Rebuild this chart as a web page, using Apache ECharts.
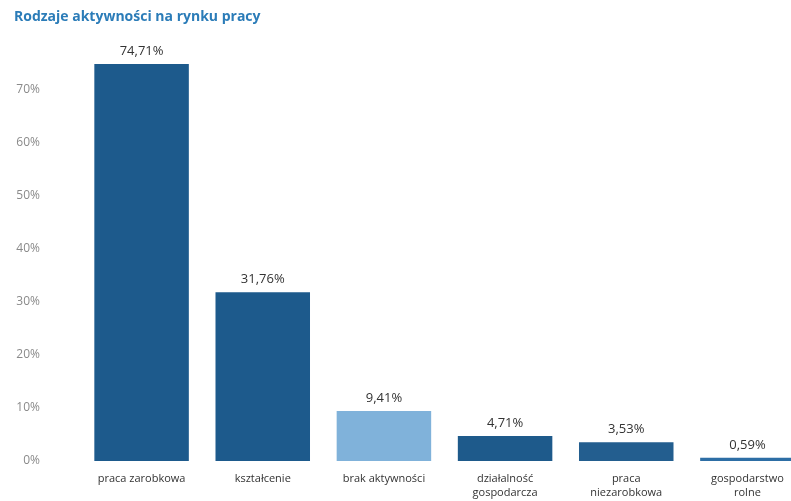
<!DOCTYPE html>
<html>
<head>
<meta charset="utf-8">
<script src="https://cdn.jsdelivr.net/npm/echarts@6/dist/echarts.min.js"></script>
<style>
html,body{margin:0;padding:0;background:#fff;}
#c{width:791px;height:501px;}
</style>
</head>
<body>
<div id="c"></div>
<script>
const categories = ["praca zarobkowa", "kształcenie", "brak aktywności", "działalność\ngospodarcza", "praca\nniezarobkowa", "gospodarstwo\nrolne"];
const values = [74.71, 31.76, 9.41, 4.71, 3.53, 0.59];
const barColors = ["#1d5a8c", "#1d5a8c", "#80b2da", "#1e5a8b", "#235e8f", "#2d6ea5"];
const yTicks = [0, 10, 20, 30, 40, 50, 60, 70, 80];

const chart = echarts.init(document.getElementById('c'));
chart.setOption({
  animation: false,
  backgroundColor: '#ffffff',
  title: {
    text: 'Rodzaje aktywności na rynku pracy',
    left: 9, top: 5,
    textStyle: { fontFamily: 'Open Sans', fontSize: 14, fontWeight: 'bold', color: '#2b7cb8' }
  },
  grid: { left: 81, width: 727, top: 36, bottom: 40, containLabel: false, outerBoundsMode: 'none' },
  xAxis: {
    type: 'category',
    data: categories,
    axisLine: { show: false },
    axisTick: { show: false },
    axisLabel: { fontFamily: 'Open Sans', fontSize: 11, color: '#333', margin: 11, lineHeight: 14, interval: 0 }
  },
  yAxis: {
    type: 'value',
    min: yTicks[0], max: yTicks[yTicks.length - 1], interval: 10,
    splitLine: { show: false },
    axisLine: { show: false },
    axisTick: { show: false },
    axisLabel: {
      showMaxLabel: false,
      fontFamily: 'Open Sans', fontSize: 12, color: '#8a8a8a', margin: 41,
      formatter: v => v + '%'
    }
  },
  series: [{
    type: 'bar',
    barCategoryGap: '22%',
    data: values.map((v, i) => ({ value: v, itemStyle: { color: barColors[i] } })),
    label: {
      show: true, position: 'top', distance: 6,
      fontFamily: 'Open Sans', fontSize: 13, color: '#333',
      formatter: p => p.value.toFixed(2).replace('.', ',') + '%'
    }
  }]
});
</script>
</body>
</html>
